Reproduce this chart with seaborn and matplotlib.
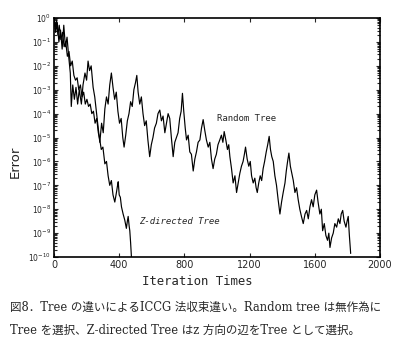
import numpy as np
import pandas as pd
import matplotlib
matplotlib.use("Agg")
import matplotlib.pyplot as plt
import seaborn as sns
from matplotlib.ticker import LogLocator, FixedLocator, NullFormatter

# values (log10 of the error)
random_iter = [0, 10, 20, 30, 40, 50, 60, 70, 80, 90, 100, 106, 115, 125, 135, 145, 155, 168, 178, 190,
               200, 209, 218, 228, 240, 250, 260, 270, 281, 292, 302, 312, 322, 332, 342, 352, 362, 372, 382, 392,
               402, 412, 422, 430, 440, 450, 460, 470, 480, 490, 500, 508, 516, 526, 536, 546, 556, 566, 576, 587,
               597, 607, 617, 628, 638, 649, 659, 669, 680, 690, 700, 710, 720, 731, 741, 751, 761, 771, 780, 788,
               796, 805, 813, 823, 833, 843, 854, 864, 874, 884, 895, 905, 915, 925, 935, 946, 956, 966, 976, 986,
               996, 1006, 1017, 1027, 1036, 1044, 1054, 1064, 1072, 1079, 1089, 1099, 1110, 1120, 1130, 1140, 1150, 1160, 1168, 1175,
               1185, 1195, 1204, 1212, 1222, 1232, 1240, 1247, 1256, 1265, 1274, 1283, 1292, 1302, 1311, 1320, 1328, 1336, 1345, 1355,
               1365, 1375, 1386, 1396, 1406, 1417, 1425, 1433, 1441, 1450, 1459, 1468, 1478, 1488, 1498, 1508, 1518, 1529, 1540, 1550,
               1560, 1570, 1580, 1590, 1600, 1611, 1620, 1631, 1640, 1648, 1658, 1668, 1678, 1686, 1693, 1703, 1713, 1723, 1734, 1744,
               1754, 1762, 1771, 1780, 1791, 1798, 1805, 1812, 1820]
random_log = [-0.05, -0.6, -0.2, -1.0, -0.5, -1.3, -0.3, -1.2, -0.8, -1.6, -2.3, -3.7, -2.8, -3.4, -2.9, -3.6, -3.0, -3.6, -2.8, -2.3,
              -2.6, -1.8, -2.2, -2.0, -2.9, -3.3, -3.9, -4.5, -5.2, -4.4, -4.8, -3.8, -3.3, -3.6, -2.8, -2.3, -2.9, -3.4, -3.1, -3.9,
              -4.4, -4.2, -5.0, -5.4, -4.9, -4.3, -4.0, -3.5, -3.7, -3.0, -2.7, -2.4, -3.1, -3.6, -3.3, -4.0, -4.5, -4.3, -5.1, -5.8,
              -5.3, -5.0, -4.6, -4.4, -4.0, -3.85, -4.3, -4.1, -4.8, -4.4, -4.0, -4.2, -5.0, -5.8, -5.2, -5.0, -4.8, -4.2, -3.9, -3.15,
              -3.9, -4.6, -5.1, -4.9, -5.6, -5.7, -6.4, -5.9, -5.6, -5.2, -5.1, -4.6, -4.25, -4.7, -5.1, -5.4, -5.2, -5.9, -6.3, -5.9,
              -5.7, -5.3, -5.1, -4.9, -5.2, -4.75, -5.1, -5.5, -5.3, -5.8, -6.3, -6.9, -6.6, -7.3, -6.9, -6.5, -6.2, -6.0, -5.7, -5.4,
              -5.9, -6.2, -6.0, -6.6, -6.9, -6.7, -7.1, -7.3, -6.9, -6.6, -6.8, -6.3, -6.0, -5.6, -5.3, -4.95, -5.5, -5.8, -6.0, -6.6,
              -7.0, -7.6, -8.2, -7.7, -7.3, -6.9, -6.4, -6.0, -5.65, -6.2, -6.5, -6.8, -7.3, -7.1, -7.6, -8.0, -8.3, -8.6, -8.2, -8.05,
              -8.4, -7.9, -7.6, -7.9, -7.4, -7.2, -7.7, -8.2, -8.0, -8.9, -8.6, -9.1, -9.3, -9.0, -9.6, -9.2, -9.0, -8.6, -8.75, -8.4,
              -8.6, -8.2, -8.05, -8.5, -8.75, -8.5, -8.3, -9.1, -9.85]

z_iter = [0, 8, 16, 24, 32, 42, 52, 62, 72, 82, 92, 102, 112, 122, 132, 142, 152, 162, 172, 182,
          192, 202, 212, 222, 232, 242, 252, 262, 272, 281, 290, 300, 312, 322, 332, 342, 352, 362, 373, 383,
          390, 394, 400, 407, 414, 424, 434, 444, 450, 455, 461, 465, 470, 475]
z_log = [0.0, -0.4, -0.1, -0.7, -0.3, -0.9, -0.6, -1.2, -1.0, -1.6, -1.4, -2.0, -1.8, -2.4, -2.6, -2.5, -3.0, -2.8, -3.3, -3.1,
         -3.6, -3.4, -3.7, -3.6, -4.0, -3.9, -4.4, -4.2, -4.8, -5.1, -5.5, -5.4, -6.1, -6.0, -6.6, -7.0, -6.8, -7.4, -7.7, -7.3,
         -7.0, -6.85, -7.4, -7.5, -7.9, -8.2, -8.45, -8.8, -8.5, -8.3, -8.7, -8.9, -9.4, -10.0]

x_ticks = [0, 400, 800, 1200, 1600, 2000]
y_decades = list(range(-10, 1))

random_df = pd.DataFrame({"iter": random_iter, "err": np.power(10.0, random_log)})
z_df = pd.DataFrame({"iter": z_iter, "err": np.power(10.0, z_log)})

sns.set_style("ticks")
plt.rcParams['font.family'] = ['DejaVu Sans']

fig = plt.figure(figsize=(4.06, 3.61), dpi=100)
ax = fig.add_axes([0.133, 0.288, 0.803, 0.662])

sns.lineplot(data=random_df, x="iter", y="err", color="black", linewidth=0.85, ax=ax, estimator=None, sort=False)
sns.lineplot(data=z_df, x="iter", y="err", color="black", linewidth=0.85, ax=ax, estimator=None, sort=False)

ax.set_yscale("log")
ax.set_xlim(0, 2000)
ax.set_ylim(1e-10, 1)
ax.xaxis.set_major_locator(FixedLocator(x_ticks))
ax.set_xticklabels([str(t) for t in x_ticks], fontsize=7)
ax.yaxis.set_major_locator(FixedLocator([10.0 ** d for d in y_decades]))
ax.set_yticklabels([r"$10^{%d}$" % d for d in y_decades], fontsize=5.5)
ax.yaxis.set_minor_locator(LogLocator(base=10, subs=np.arange(2, 10), numticks=20))
ax.yaxis.set_minor_formatter(NullFormatter())
ax.tick_params(which="both", direction="in", top=True, right=True, width=0.8, pad=2)
ax.tick_params(which="major", length=3)
ax.tick_params(which="minor", length=2)
for s in ax.spines.values():
    s.set_linewidth(1.2)
    s.set_color("black")

ax.set_xlabel("Iteration Times", fontsize=8.8, family="DejaVu Sans Mono")
ax.xaxis.set_label_coords(0.44, -0.075)
ax.set_ylabel("Error", fontsize=9.5)
ax.yaxis.set_label_coords(-0.1, 0.4)

ax.text(1000, 10 ** -4.2, "Random Tree", fontsize=6.5, family="DejaVu Sans Mono", va="center")
ax.text(520, 10 ** -8.5, "Z-directed Tree", fontsize=6.5, family="DejaVu Sans Mono", va="center", style="italic")

cap = ['DejaVu Serif', 'Noto Sans CJK JP']
fig.text(0.025, 1 - 307 / 361, "図8．Tree の違いによるICCG 法収束違い。Random tree は無作為に",
         fontsize=8.3, family=cap, va="center")
fig.text(0.025, 1 - 330 / 361, "Tree を選択、Z-directed Tree はz 方向の辺をTree として選択。",
         fontsize=8.3, family=cap, va="center")

fig.savefig("out.png", dpi=100)
